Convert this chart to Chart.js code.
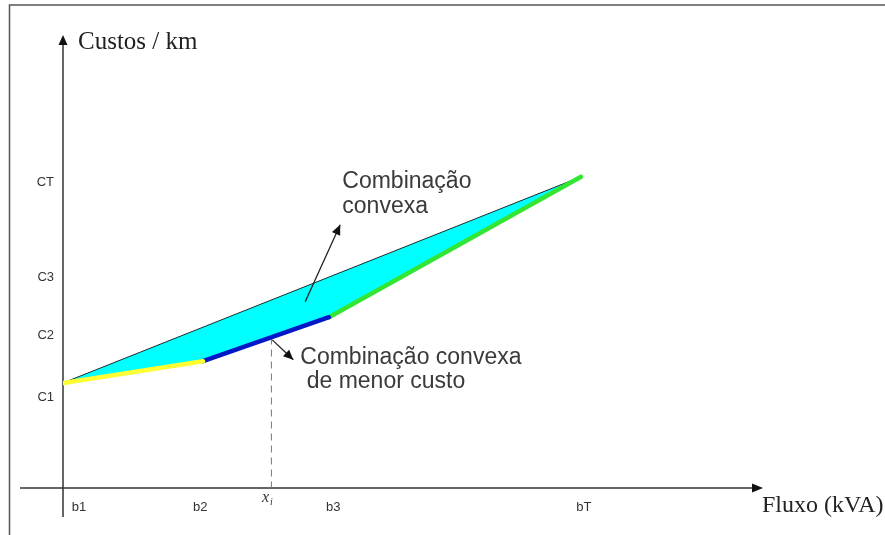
<!DOCTYPE html>
<html>
<head>
<meta charset="utf-8">
<script src="https://cdn.jsdelivr.net/npm/chart.js@4"></script>
<style>
  body { margin: 0; background: #fff; }
  canvas { display: block; }
</style>
</head>
<body>
<canvas id="chart" width="885" height="535"></canvas>
<script>
// Breakpoints of the piecewise-linear cost curve (b1, b2, b3, bT)
const fluxo = [0, 20, 38, 74];
const custo = [23.2, 28.0, 37.7, 68.7];
const xi = 29.7;

// Tick labels and where they sit on each axis
const xTickLabels = ['b1', 'b2', 'b3', 'bT'];
const xTickPos = [2.3, 19.6, 38.6, 74.4];
const yTickLabels = ['C1', 'C2', 'C3', 'CT'];
const yTickPos = [20.1, 33.6, 46.4, 67.5];

const pt = i => ({ x: fluxo[i], y: custo[i] });

// Text notes with arrows, in data units
const notes = [
    { lines: ['Combinação', 'convexa'], x: 39.9, y: [66.2, 60.7], from: [34.6, 41.1], to: [39.6, 58.1] },
    { lines: ['Combinação convexa', ' de menor custo'], x: 33.9, y: [27.4, 22.1], from: [29.9, 32.7], to: [32.9, 28.3] }
];

function arrowHead(ctx, x1, y1, x2, y2, len, half) {
    const a = Math.atan2(y2 - y1, x2 - x1);
    ctx.beginPath();
    ctx.moveTo(x2, y2);
    ctx.lineTo(x2 - len * Math.cos(a) + half * Math.sin(a), y2 - len * Math.sin(a) - half * Math.cos(a));
    ctx.lineTo(x2 - len * Math.cos(a) - half * Math.sin(a), y2 - len * Math.sin(a) + half * Math.cos(a));
    ctx.closePath();
    ctx.fill();
}

const diagram = {
    id: 'diagram',
    beforeDatasetsDraw(chart) {
        const ctx = chart.ctx;
        const sx = chart.scales.x, sy = chart.scales.y;
        const ox = sx.getPixelForValue(0), oy = sy.getPixelForValue(0);
        const top = sy.getPixelForValue(sy.max), right = sx.getPixelForValue(sx.max);
        ctx.save();
        // frame
        ctx.strokeStyle = '#555';
        ctx.lineWidth = 1.5;
        ctx.beginPath();
        ctx.moveTo(9.5, 535);
        ctx.lineTo(9.5, 5);
        ctx.lineTo(885, 5);
        ctx.stroke();
        // axes
        ctx.strokeStyle = '#333';
        ctx.fillStyle = '#111';
        ctx.lineWidth = 1.5;
        ctx.beginPath();
        ctx.moveTo(ox, oy + 29);
        ctx.lineTo(ox, top + 6);
        ctx.moveTo(20, oy);
        ctx.lineTo(right - 6, oy);
        ctx.stroke();
        arrowHead(ctx, ox, oy, ox, top, 10, 4.5);
        arrowHead(ctx, ox, oy, right, oy, 11, 4.5);
        // dashed guide at x_i
        const xp = sx.getPixelForValue(xi);
        const k = (xi - fluxo[1]) / (fluxo[2] - fluxo[1]);
        const yp = sy.getPixelForValue(custo[1] + k * (custo[2] - custo[1]));
        ctx.strokeStyle = '#777';
        ctx.lineWidth = 1;
        ctx.setLineDash([7, 5]);
        ctx.beginPath();
        ctx.moveTo(xp + 0.5, yp);
        ctx.lineTo(xp + 0.5, oy);
        ctx.stroke();
        ctx.restore();
    },
    afterDraw(chart) {
        const ctx = chart.ctx;
        const sx = chart.scales.x, sy = chart.scales.y;
        const ox = sx.getPixelForValue(0), oy = sy.getPixelForValue(0);
        const top = sy.getPixelForValue(sy.max), right = sx.getPixelForValue(sx.max);
        ctx.save();
        // tick labels
        ctx.fillStyle = '#333';
        ctx.font = '13px "Liberation Sans", Arial, sans-serif';
        ctx.textBaseline = 'middle';
        ctx.textAlign = 'center';
        xTickLabels.forEach((t, i) => ctx.fillText(t, sx.getPixelForValue(xTickPos[i]), oy + 19));
        ctx.textAlign = 'right';
        yTickLabels.forEach((t, i) => ctx.fillText(t, ox - 9, sy.getPixelForValue(yTickPos[i])));
        // x_i label
        const xp = sx.getPixelForValue(xi);
        ctx.textAlign = 'left';
        ctx.textBaseline = 'alphabetic';
        ctx.font = 'italic 16px "Liberation Serif", serif';
        ctx.fillText('x', xp - 9, oy + 14);
        ctx.font = 'italic 10px "Liberation Serif", serif';
        ctx.fillText('i', xp - 1, oy + 17);
        // axis titles
        ctx.fillStyle = '#222';
        ctx.font = '25px "Liberation Serif", "Times New Roman", serif';
        ctx.fillText('Custos / km', ox + 15, top + 14);
        ctx.font = '24px "Liberation Serif", "Times New Roman", serif';
        ctx.fillText('Fluxo (kVA)', right - 1, oy + 24);
        // notes with arrows
        ctx.font = '23px "Liberation Sans", Arial, sans-serif';
        ctx.strokeStyle = '#222';
        ctx.lineWidth = 1.3;
        notes.forEach(n => {
            ctx.fillStyle = '#3a3a3a';
            n.lines.forEach((l, i) => ctx.fillText(l, sx.getPixelForValue(n.x), sy.getPixelForValue(n.y[i])));
            const x1 = sx.getPixelForValue(n.from[0]), y1 = sy.getPixelForValue(n.from[1]);
            const x2 = sx.getPixelForValue(n.to[0]), y2 = sy.getPixelForValue(n.to[1]);
            ctx.beginPath();
            ctx.moveTo(x1, y1);
            ctx.lineTo(x2, y2);
            ctx.stroke();
            ctx.fillStyle = '#111';
            arrowHead(ctx, x1, y1, x2, y2, 10, 4.5);
        });
        ctx.restore();
    }
};

const seg = (a, b, color) => ({
    data: [pt(a), pt(b)], borderColor: color, borderWidth: 4.5, borderCapStyle: 'round', order: 0
});

new Chart(document.getElementById('chart'), {
    type: 'scatter',
    data: {
        datasets: [
            { data: [pt(0), pt(3)], borderColor: '#1b2a2a', borderWidth: 1, backgroundColor: '#00FFFF', fill: 1, order: 1 },
            { data: fluxo.map((f, i) => pt(i)), borderWidth: 0, borderColor: 'transparent', fill: false, order: 2 },
            seg(0, 1, '#FFFF33'),
            seg(1, 2, '#0018C8'),
            seg(2, 3, '#33E633')
        ]
    },
    options: {
        responsive: false,
        animation: false,
        showLine: true,
        layout: { padding: { left: 63, top: 35, right: 122, bottom: 47 } },
        elements: { point: { radius: 0, hoverRadius: 0 } },
        plugins: { legend: { display: false }, tooltip: { enabled: false } },
        scales: {
            x: { type: 'linear', min: 0, max: 100, display: false },
            y: { type: 'linear', min: 0, max: 100, display: false }
        }
    },
    plugins: [diagram]
});
</script>
</body>
</html>
